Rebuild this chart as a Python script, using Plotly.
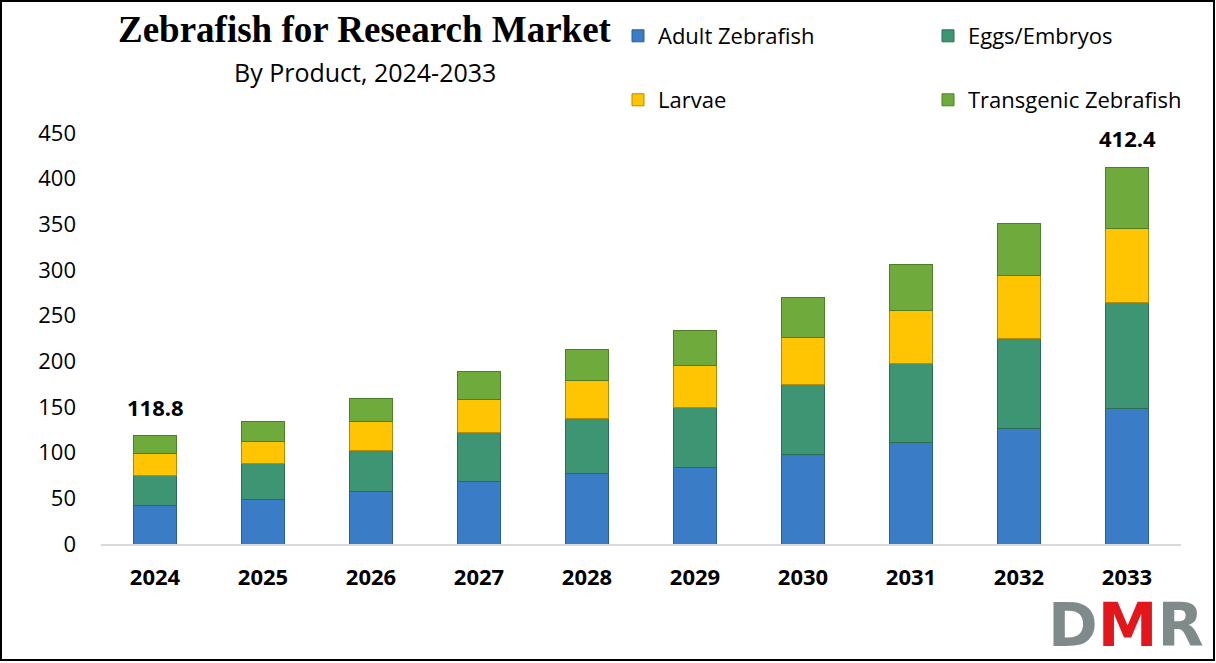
import plotly.graph_objects as go

years = ["2024", "2025", "2026", "2027", "2028", "2029", "2030", "2031", "2032", "2033"]
adult = [42.0, 49.0, 57.3, 68.0, 77.4, 83.6, 97.5, 110.6, 126.7, 148.2]
eggs = [33.0, 38.7, 45.6, 53.6, 59.8, 66.4, 76.6, 86.5, 98.5, 116.4]
larvae = [24.0, 24.1, 30.7, 36.2, 41.7, 44.9, 51.5, 59.1, 69.3, 80.3]
transgenic = [19.8, 22.6, 25.9, 30.6, 34.3, 38.4, 43.8, 49.3, 56.6, 67.5]
label_years = ["2024", "2033"]
label_totals = [118.8, 412.4]

series = [
    ("Adult Zebrafish", adult, "#3A7DC6", "#2A5E97"),
    ("Eggs/Embryos", eggs, "#3E9573", "#2C6E52"),
    ("Larvae", larvae, "#FFC502", "#B58C00"),
    ("Transgenic Zebrafish", transgenic, "#6EAB3C", "#4E7F28"),
]

W, H = 1216, 663
ML, MR, MT, MB = 101, 35, 133, 119
PW, PH = W - ML - MR, H - MT - MB

def px_x(p):
    return (p - ML) / PW

def px_y(p):
    return (H - MB - p) / PH

legend_names = ["legend", "legend2", "legend3", "legend4"]
legend_pos = [(618, 36), (928, 36), (618, 100), (928, 100)]

fig = go.Figure()
for (name, vals, col, edge), lg in zip(series, legend_names):
    fig.add_trace(go.Bar(
        x=years, y=vals, name=name, legend=lg,
        marker=dict(color=col, line=dict(color=edge, width=1)),
        hoverinfo="x+y+name",
    ))

for yr, tot in zip(label_years, label_totals):
    fig.add_annotation(x=years.index(yr), y=tot, text="<b>%.1f</b>" % tot,
                       showarrow=False, yanchor="bottom", yshift=12,
                       font=dict(family="Open Sans", size=22, color="black"))

fig.add_annotation(xref="paper", yref="paper", x=px_x(365), y=px_y(30),
                   text="<b>Zebrafish for Research Market</b>", showarrow=False,
                   xanchor="center", yanchor="middle",
                   font=dict(family="Liberation Serif", size=37, color="black"))
fig.add_annotation(xref="paper", yref="paper", x=px_x(365), y=px_y(72),
                   text="By Product, 2024-2033", showarrow=False,
                   xanchor="center", yanchor="middle",
                   font=dict(family="Open Sans", size=25, color="black"))

# DMR logo
fig.add_annotation(xref="paper", yref="paper", x=px_x(1126), y=px_y(625),
                   text="<b><span style='color:#7F8A8A'>D</span><span style='color:#E3161B'>M</span><span style='color:#7F8A8A'>R</span></b>",
                   showarrow=False, xanchor="center", yanchor="middle",
                   font=dict(family="DejaVu Sans", size=60))

# outer frame
fig.add_shape(type="rect", xref="paper", yref="paper",
              x0=px_x(1), x1=px_x(1214), y0=px_y(660), y1=px_y(1),
              line=dict(color="black", width=2), fillcolor="rgba(0,0,0,0)", layer="above")

leg_font = dict(family="Open Sans", size=22, color="black")
layout_legends = {}
for lg, (lx, ly) in zip(legend_names, legend_pos):
    layout_legends[lg] = dict(orientation="v", x=px_x(lx), y=px_y(ly),
                              xanchor="left", yanchor="middle", font=leg_font,
                              itemwidth=30, bgcolor="rgba(0,0,0,0)")

fig.update_layout(
    width=W, height=H,
    margin=dict(l=ML, r=MR, t=MT, b=MB, pad=0),
    paper_bgcolor="white", plot_bgcolor="white",
    barmode="stack", bargap=0.6,
    showlegend=True,
    xaxis=dict(type="category", showgrid=False, showline=True, linecolor="#D9D9D9",
               linewidth=2, ticks="", ticklabelstandoff=13,
               tickfont=dict(family="Open Sans", size=22, color="black", weight="bold")),
    yaxis=dict(range=[0, 450], tickvals=[0, 50, 100, 150, 200, 250, 300, 350, 400, 450],
               showgrid=False, showline=False, zeroline=False, ticks="",
               ticklabelstandoff=24,
               tickfont=dict(family="Open Sans", size=22, color="black")),
    **layout_legends,
)

fig.write_html("out.html")
